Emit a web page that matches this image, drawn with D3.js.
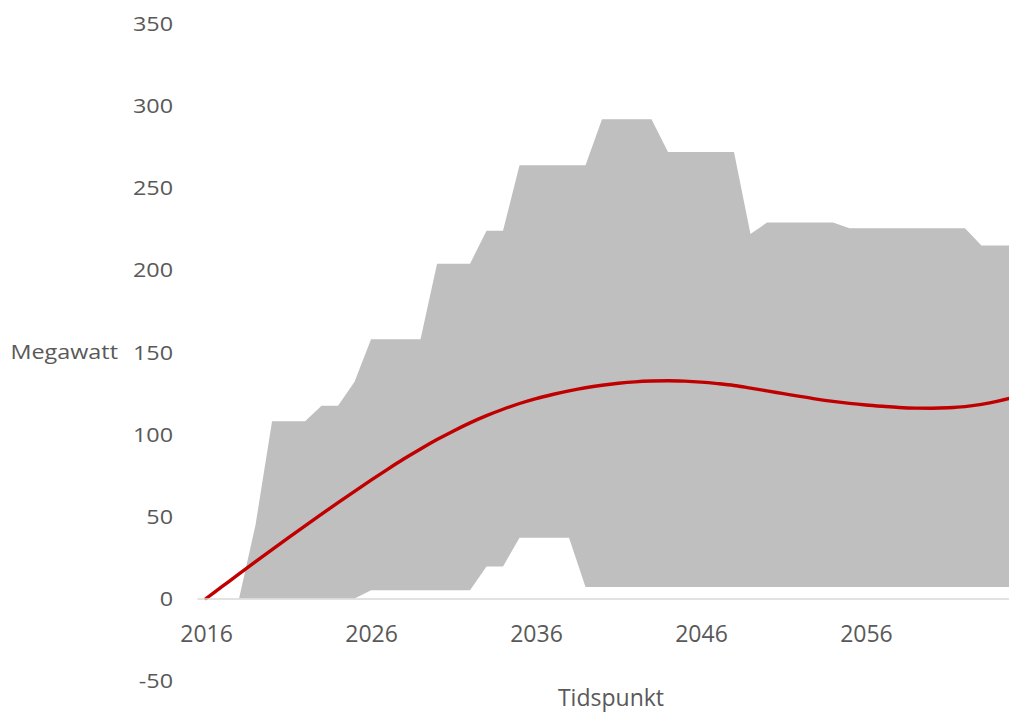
<!DOCTYPE html>
<html>
<head>
<meta charset="utf-8">
<script src="https://cdn.jsdelivr.net/npm/d3@7"></script>
<style>
  html, body { margin: 0; padding: 0; background: #ffffff; }
  svg { display: block; }
  text { font-family: "Open Sans", "Liberation Sans", sans-serif; fill: #595959; }
</style>
</head>
<body>
<svg id="chart" width="1009" height="713"></svg>
<script>
// ---- Data ----
const years = [2016,2017,2018,2019,2020,2021,2022,2023,2024,2025,
               2026,2027,2028,2029,2030,2031,2032,2033,2034,2035,
               2036,2037,2038,2039,2040,2041,2042,2043,2044,2045,
               2046,2047,2048,2049,2050,2051,2052,2053,2054,2055,
               2056,2057,2058,2059,2060,2061,2062,2063,2064,2065];

// red trend line (Megawatt)
const forecast = [0,7.5,15,22.4,29.8,37.1,44.3,51.4,58.4,65.3,
                  72.1,78.7,85.1,91.1,96.8,102.1,107,111.4,115.3,118.8,
                  121.8,124.3,126.5,128.4,129.9,131.1,132,132.5,132.7,132.4,
                  131.8,130.9,129.8,128.2,126.5,124.8,123.1,121.5,120.1,118.9,
                  117.9,117.1,116.4,116,115.9,116.2,116.9,118.3,120.2,122.6];

// grey band: upper bound
const upper = [null,null,0,45,108,108,108,117.5,117.5,132,
               158,158,158,158,204,204,204,224,224,264,
               264,264,264,264,292,292,292,292,272,272,
               272,272,272,222,229,229,229,229,229,225.5,
               225.5,225.5,225.5,225.5,225.5,225.5,225.5,215,215,215];

// grey band: lower bound
const lower = [null,null,0,0,0,0,0,0,0,0,
               5,5,5,5,5,5,5,19.5,19.5,37,
               37,37,37,7,7,7,7,7,7,7,
               7,7,7,7,7,7,7,7,7,7,
               7,7,7,7,7,7,7,7,7,7];

const yTicks = [-50,0,50,100,150,200,250,300,350];
const xTicks = [2016,2026,2036,2046,2056];
const yTitle = "Megawatt";
const xTitle = "Tidspunkt";

// ---- Layout ----
const svg = d3.select("#chart");
const plotLeft = 197, plotRight = 1009;
const x = d3.scaleLinear().domain([2015.45, 2064.67]).range([plotLeft, plotRight]);
const y = d3.scaleLinear().domain([0, 350]).range([598.5, 24]);
const ySX = 1.14; // horizontal stretch of y-side text

const rows = years.map((yr, i) => ({ year: yr, f: forecast[i], up: upper[i], lo: lower[i] }));

svg.append("defs").append("clipPath").attr("id", "plotClip")
  .append("rect").attr("x", plotLeft).attr("y", 0)
  .attr("width", plotRight - plotLeft).attr("height", 713);

const plot = svg.append("g").attr("clip-path", "url(#plotClip)");

// band
const area = d3.area()
  .defined(d => d.up != null && d.lo != null)
  .x(d => x(d.year))
  .y0(d => y(d.lo))
  .y1(d => y(d.up));
plot.append("path").datum(rows)
  .attr("d", area)
  .attr("fill", "#bfbfbf");

// x axis line (category axis at 0)
const xAxis = d3.axisBottom(x).tickValues(xTicks).tickFormat(d => String(d)).tickSize(0).tickPadding(0);
const gx = svg.append("g").attr("transform", `translate(0,${y(0)})`).call(xAxis);
gx.select(".domain").attr("stroke", "#d9d9d9").attr("stroke-width", 1.5);
gx.selectAll(".tick text")
  .attr("y", 43).attr("dy", null)
  .style("font-size", "23px")
  .style("fill", "#595959");

// trend line
const line = d3.line().x(d => x(d.year)).y(d => y(d.f)).curve(d3.curveMonotoneX);
plot.append("path").datum(rows)
  .attr("d", line)
  .attr("fill", "none")
  .attr("stroke", "#c00000")
  .attr("stroke-width", 3.4)
  .attr("stroke-linejoin", "round")
  .attr("stroke-linecap", "round");

// y axis (labels only)
const yAxis = d3.axisLeft(y).tickValues(yTicks).tickFormat(d => String(d)).tickSize(0).tickPadding(24);
const gy = svg.append("g").attr("transform", `translate(${plotLeft},0)`).call(yAxis);
gy.select(".domain").remove();
gy.selectAll(".tick text")
  .attr("x", -24 / ySX)
  .attr("transform", `scale(${ySX},1)`)
  .attr("dy", "0.33em")
  .style("font-size", "20.5px")
  .style("fill", "#595959");

// y title
svg.append("text")
  .attr("transform", `translate(118,${y(150)}) scale(${ySX},1)`)
  .attr("text-anchor", "end")
  .attr("dy", "0.35em")
  .style("font-size", "20.5px")
  .text(yTitle);

// x title
svg.append("text")
  .attr("x", 611).attr("y", 706)
  .attr("text-anchor", "middle")
  .style("font-size", "23px")
  .text(xTitle);
</script>
</body>
</html>
